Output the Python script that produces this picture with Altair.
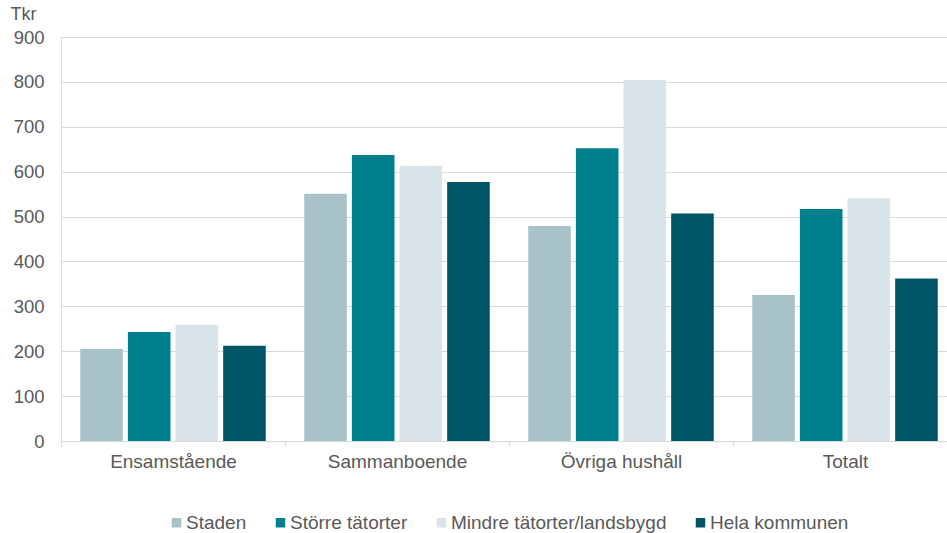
import altair as alt
import pandas as pd

# Household groups along the x axis
categories = ["Ensamstående", "Sammanboende", "Övriga hushåll", "Totalt"]

# Series (areas), values in Tkr
series = ["Staden", "Större tätorter", "Mindre tätorter/landsbygd", "Hela kommunen"]
staden = [205, 551, 479, 325]
storre = [243, 637, 652, 517]
mindre = [259, 613, 804, 541]
hela = [212, 577, 507, 362]

colors = ["#A7C3C8", "#00808C", "#D9E4E9", "#005566"]

rows = []
for name, vals in zip(series, [staden, storre, mindre, hela]):
    for cat, v in zip(categories, vals):
        rows.append({"Hushåll": cat, "Område": name, "Tkr": v})
df = pd.DataFrame(rows)

FONT = "Liberation Sans"
TEXT = "#595959"
GRID = "#D9D9D9"

chart = (
    alt.Chart(df)
    .mark_bar()
    .encode(
        x=alt.X(
            "Hushåll:N",
            sort=categories,
            scale=alt.Scale(paddingInner=0, paddingOuter=0, range=[0, 896]),
            axis=alt.Axis(
                title=None,
                labelAngle=0,
                labelFont=FONT,
                labelFontSize=19,
                labelColor=TEXT,
                labelPadding=6,
                tickBand="extent",
                tickColor=GRID,
                tickSize=5,
                domainColor=GRID,
                grid=False,
            ),
        ),
        xOffset=alt.XOffset(
            "Område:N",
            sort=series,
            scale=alt.Scale(paddingInner=0.106, paddingOuter=0.404),
        ),
        y=alt.Y(
            "Tkr:Q",
            scale=alt.Scale(domain=[0, 900], nice=False),
            axis=alt.Axis(
                values=list(range(0, 1000, 100)),
                title="Tkr",
                titleAngle=0,
                titleFont=FONT,
                titleFontSize=18,
                titleFontWeight="normal",
                titleColor=TEXT,
                titleAlign="left",
                titleBaseline="middle",
                titleX=-51,
                titleY=-23,
                labelFont=FONT,
                labelFontSize=18.5,
                labelColor=TEXT,
                labelPadding=17,
                ticks=False,
                domain=False,
                grid=True,
                gridColor=GRID,
                gridWidth=1,
            ),
        ),
        color=alt.Color(
            "Område:N",
            sort=series,
            scale=alt.Scale(domain=series, range=colors),
            legend=alt.Legend(
                title=None,
                orient="none",
                direction="horizontal",
                legendX=106,
                legendY=476,
                symbolType="square",
                symbolSize=90,
                symbolStrokeWidth=0,
                labelFont=FONT,
                labelFontSize=19,
                labelColor=TEXT,
                labelOffset=0,
                labelLimit=0,
                columnPadding=24,
                padding=0,
            ),
        ),
    )
    .properties(
        width=886,
        height=404,
        autosize=alt.AutoSizeParams(type="none"),
        padding={"left": 61, "top": 37, "right": 0, "bottom": 92},
    )
    .configure_view(stroke=None)
    .configure(background="white")
)

chart.save("out.html", embed_options={"renderer": "svg", "actions": False})
